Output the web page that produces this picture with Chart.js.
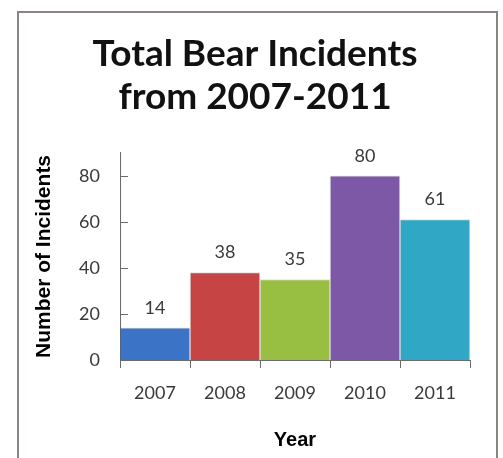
<!DOCTYPE html>
<html>
<head>
<meta charset="utf-8">
<script src="https://cdn.jsdelivr.net/npm/chart.js@4"></script>
<style>
  body { margin: 0; background: #fff; }
  #frame { position: absolute; left: 17px; top: 11px; width: 477px; height: 460px; border: 2px solid #8c8480; }
  #wrap { position: absolute; left: 0; top: 0; width: 503px; height: 458px; }
</style>
</head>
<body>
<div id="frame"></div>
<div id="wrap"><canvas id="bearChart" width="503" height="458"></canvas></div>
<script>
const years = ['2007', '2008', '2009', '2010', '2011'];
const incidents = [14, 38, 35, 80, 61];
const barColors = ['#3b73c6', '#c74444', '#98bf42', '#7d58a6', '#31a7c6'];
const yTicks = [0, 20, 40, 60, 80];

// value labels above each bar
const barLabels = {
    id: 'barLabels',
    afterDatasetsDraw(chart) {
        const ctx = chart.ctx;
        const meta = chart.getDatasetMeta(0);
        ctx.save();
        ctx.font = '18px Lato';
        ctx.fillStyle = '#3a3a3a';
        ctx.textAlign = 'center';
        ctx.textBaseline = 'middle';
        meta.data.forEach((bar, i) => {
            ctx.fillText(incidents[i], bar.x, bar.y - 20);
        });
        ctx.restore();
    }
};

// short tick marks pointing into the plot on the y axis
const innerTicks = {
    id: 'innerTicks',
    afterDraw(chart) {
        const ctx = chart.ctx;
        const y = chart.scales.y;
        ctx.save();
        ctx.strokeStyle = '#6b6b6b';
        ctx.lineWidth = 1;
        yTicks.slice(1).forEach(v => {
            const py = Math.round(y.getPixelForValue(v)) + 0.5;
            ctx.beginPath();
            ctx.moveTo(y.right, py);
            ctx.lineTo(y.right + 8, py);
            ctx.stroke();
        });
        ctx.restore();
    }
};

const ctx = document.getElementById('bearChart').getContext('2d');
const bearChart = new Chart(ctx, {
    type: 'bar',
    data: {
        labels: years,
        datasets: [{
            data: incidents,
            backgroundColor: barColors,
            borderColor: 'rgba(0,0,0,0.12)',
            borderWidth: 1,
            categoryPercentage: 1,
            barPercentage: 1
        }]
    },
    plugins: [barLabels, innerTicks],
    options: {
        responsive: false,
        animation: false,
        layout: {
            padding: { left: 40, right: 33, top: 0, bottom: 0 }
        },
        scales: {
            y: {
                min: 0,
                max: 90,
                afterBuildTicks: scale => {
                    scale.ticks = yTicks.map(v => ({ value: v }));
                },
                afterFit: scale => { scale.width = 80; },
                ticks: {
                    padding: 20,
                    color: '#3a3a3a',
                    font: { family: 'Lato', size: 18 }
                },
                grid: { display: false, drawTicks: false },
                border: { display: true, color: '#6b6b6b', width: 1 },
                title: {
                    display: true,
                    text: 'Number of Incidents',
                    color: '#000',
                    font: { family: 'Liberation Sans', size: 21, weight: 'bold', lineHeight: 0.4 },
                    padding: { top: 0 }
                }
            },
            x: {
                afterFit: scale => { scale.height = 98; },
                ticks: {
                    padding: 14,
                    color: '#3a3a3a',
                    font: { family: 'Lato', size: 18 }
                },
                grid: {
                    offset: true,
                    drawOnChartArea: false,
                    drawTicks: true,
                    tickLength: 8,
                    color: '#6b6b6b'
                },
                border: { display: true, color: '#6b6b6b', width: 1 },
                title: {
                    display: true,
                    text: 'Year',
                    color: '#000',
                    font: { family: 'Liberation Sans', size: 20, weight: 'bold' },
                    padding: { bottom: 6 }
                }
            }
        },
        plugins: {
            legend: { display: false },
            tooltip: { enabled: false },
            title: {
                display: true,
                text: ['Total Bear Incidents', 'from 2007-2011'],
                color: '#111',
                font: { family: 'Lato', size: 37, weight: 'bold', lineHeight: 1.18 },
                padding: { top: 32, bottom: 33.6 }
            }
        }
    }
});
</script>
</body>
</html>
